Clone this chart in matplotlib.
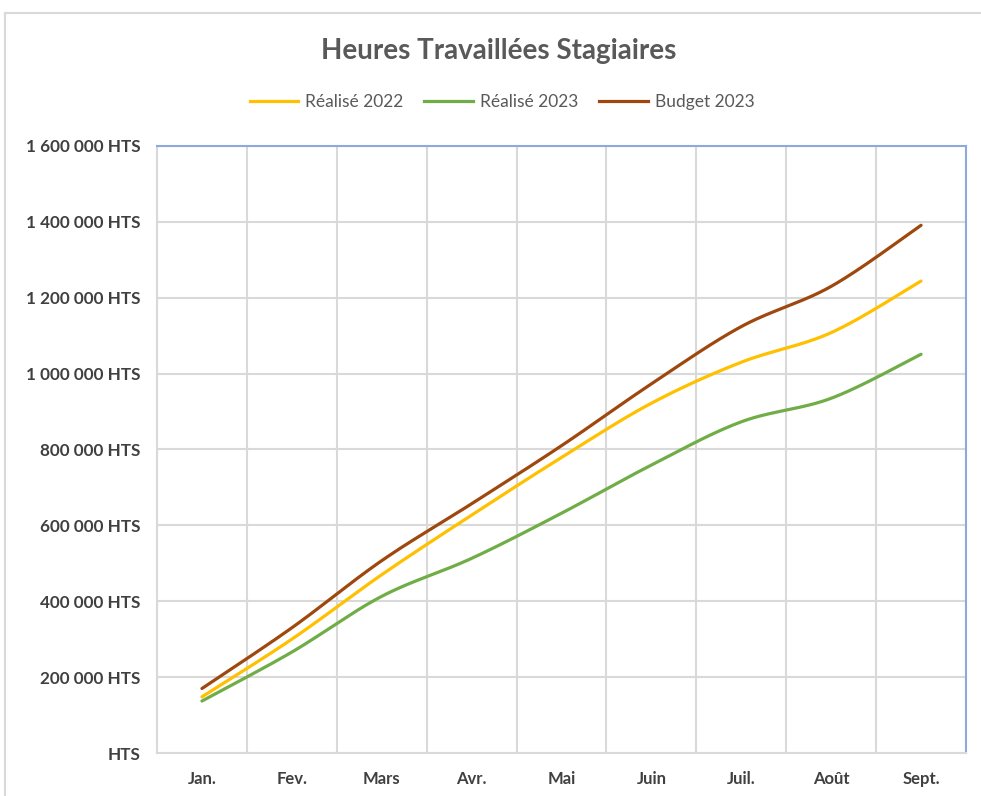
import numpy as np
import matplotlib.pyplot as plt
from matplotlib.lines import Line2D

MONTHS = ["Jan.", "Fev.", "Mars", "Avr.", "Mai", "Juin", "Juil.", "Août", "Sept."]
REALISE_2022 = [148000, 300000, 470000, 627000, 779000, 922000, 1030000, 1108000, 1244000]
REALISE_2023 = [137000, 266000, 413000, 513000, 632000, 759000, 873000, 935000, 1051000]
BUDGET_2023 = [170000, 330000, 507000, 657000, 810000, 973000, 1124000, 1230000, 1391000]
Y_TICKS = [0, 200000, 400000, 600000, 800000, 1000000, 1200000, 1400000, 1600000]

TEXT_GRAY = "#595959"
GRID = "#d9d9d9"


def smooth(xs, ys, steps=30):
    # bezier smoothing similar to a spreadsheet "smoothed line"
    p = np.column_stack([xs, ys]).astype(float)
    n = len(p)
    out = [p[0]]
    t = np.linspace(0, 1, steps)[1:, None]
    for i in range(n - 1):
        prev = p[i - 1] if i > 0 else p[i]
        nxt = p[i + 2] if i + 2 < n else p[i + 1]
        c1 = p[i] + (p[i + 1] - prev) / 6
        c2 = p[i + 1] - (nxt - p[i]) / 6
        seg = ((1 - t) ** 3) * p[i] + 3 * ((1 - t) ** 2) * t * c1 \
            + 3 * (1 - t) * t ** 2 * c2 + t ** 3 * p[i + 1]
        out.extend(seg)
    out = np.array(out)
    return out[:, 0], out[:, 1]


def fmt(v):
    if v == 0:
        return "HTS"
    return f"{v:,}".replace(",", " ") + " HTS"


plt.rcParams['font.family'] = ['Lato', 'DejaVu Sans']

fig = plt.figure(figsize=(9.81, 7.96), dpi=100)
ax = fig.add_axes([157 / 981, 1 - 753 / 796, (966 - 157) / 981, (753 - 146) / 796])

x = np.arange(len(MONTHS))
series = [
    ("Réalisé 2022", REALISE_2022, "#FFC000"),
    ("Réalisé 2023", REALISE_2023, "#70AD47"),
    ("Budget 2023", BUDGET_2023, "#9E480E"),
]
for name, vals, col in series:
    sx, sy = smooth(x, vals)
    ax.plot(sx, sy, color=col, lw=2.3, solid_capstyle='round', zorder=3)

ax.set_xlim(-0.5, len(MONTHS) - 0.5)
ax.set_ylim(0, 1600000)
ax.set_yticks(Y_TICKS)
ax.set_yticklabels([fmt(v) for v in Y_TICKS])
ax.set_xticks(x)
ax.set_xticklabels(MONTHS)
ax.set_xticks(np.arange(len(MONTHS) + 1) - 0.5, minor=True)
ax.tick_params(axis='both', which='both', length=0)
ax.tick_params(axis='y', pad=12, labelsize=12.3, labelcolor="#404040")
ax.tick_params(axis='x', pad=13, labelsize=12, labelcolor="#404040")
for lab in ax.get_xticklabels() + ax.get_yticklabels():
    lab.set_fontweight('bold')

ax.grid(axis='y', which='major', color=GRID, lw=1.5)
ax.grid(axis='x', which='minor', color=GRID, lw=1.5)
ax.set_axisbelow(True)

ax.spines['left'].set_color(GRID)
ax.spines['bottom'].set_color(GRID)
ax.spines['top'].set_color("#8EA9DB")
ax.spines['right'].set_color("#8EA9DB")
for s in ax.spines.values():
    s.set_linewidth(1.5)

fig.text(499 / 981, 1 - 51 / 796, "Heures Travaillées Stagiaires", ha='center', va='center',
         fontsize=20, fontweight='bold', color=TEXT_GRAY)

handles = [Line2D([], [], color=col, lw=2.3) for _, _, col in series]
fig.legend(handles, [s[0] for s in series], loc='center', bbox_to_anchor=(502 / 981, 1 - 102 / 796),
           ncol=3, frameon=False, fontsize=12.5, labelcolor=TEXT_GRAY, handlelength=2.8,
           handletextpad=0.4, columnspacing=1.2)

# outer chart frame
fig.add_artist(Line2D([5 / 981, 5 / 981], [0, 1 - 13 / 796], color=GRID, lw=1.5))
fig.add_artist(Line2D([5 / 981, 1], [1 - 13 / 796, 1 - 13 / 796], color=GRID, lw=1.5))

fig.savefig("out.png", dpi=100, facecolor='white')
